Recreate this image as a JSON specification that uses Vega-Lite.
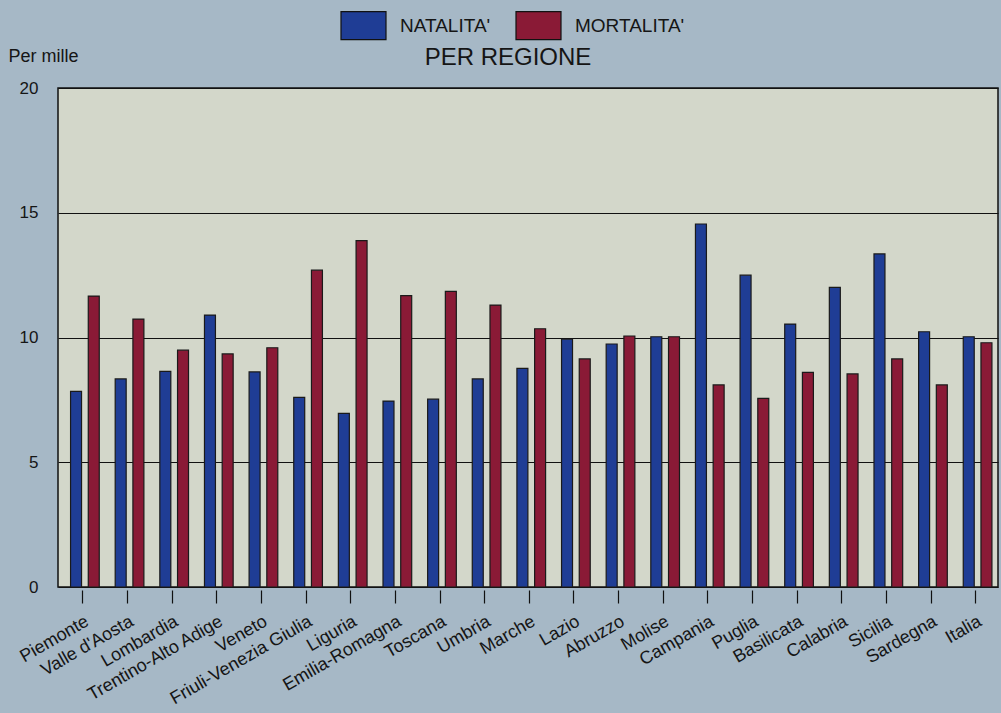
{
  "$schema": "https://vega.github.io/schema/vega-lite/v6.json",
  "autosize": "none",
  "width": 940,
  "height": 499,
  "padding": {"left": 58, "top": 88, "right": 3, "bottom": 126},
  "background": "#a6b8c6",
  "title": {
    "text": "PER REGIONE",
    "anchor": "middle",
    "dx": -20,
    "dy": 101,
    "offset": 14,
    "baseline": "alphabetic",
    "font": "Liberation Sans",
    "fontSize": 24,
    "fontWeight": "normal",
    "color": "#151515"
  },
  "config": {
    "view": {"fill": "#d3d7ca", "stroke": "#111111", "strokeWidth": 1.5},
    "font": "Liberation Sans"
  },
  "data": {
    "values": [
      {"regione": "Piemonte", "indicatore": "NATALITA'", "valore": 7.84},
      {"regione": "Piemonte", "indicatore": "MORTALITA'", "valore": 11.66},
      {"regione": "Valle d'Aosta", "indicatore": "NATALITA'", "valore": 8.34},
      {"regione": "Valle d'Aosta", "indicatore": "MORTALITA'", "valore": 10.74},
      {"regione": "Lombardia", "indicatore": "NATALITA'", "valore": 8.64},
      {"regione": "Lombardia", "indicatore": "MORTALITA'", "valore": 9.49},
      {"regione": "Trentino-Alto Adige", "indicatore": "NATALITA'", "valore": 10.9},
      {"regione": "Trentino-Alto Adige", "indicatore": "MORTALITA'", "valore": 9.34},
      {"regione": "Veneto", "indicatore": "NATALITA'", "valore": 8.62},
      {"regione": "Veneto", "indicatore": "MORTALITA'", "valore": 9.59},
      {"regione": "Friuli-Venezia Giulia", "indicatore": "NATALITA'", "valore": 7.6},
      {"regione": "Friuli-Venezia Giulia", "indicatore": "MORTALITA'", "valore": 12.7},
      {"regione": "Liguria", "indicatore": "NATALITA'", "valore": 6.96},
      {"regione": "Liguria", "indicatore": "MORTALITA'", "valore": 13.88},
      {"regione": "Emilia-Romagna", "indicatore": "NATALITA'", "valore": 7.45},
      {"regione": "Emilia-Romagna", "indicatore": "MORTALITA'", "valore": 11.68},
      {"regione": "Toscana", "indicatore": "NATALITA'", "valore": 7.53},
      {"regione": "Toscana", "indicatore": "MORTALITA'", "valore": 11.85},
      {"regione": "Umbria", "indicatore": "NATALITA'", "valore": 8.34},
      {"regione": "Umbria", "indicatore": "MORTALITA'", "valore": 11.3},
      {"regione": "Marche", "indicatore": "NATALITA'", "valore": 8.76},
      {"regione": "Marche", "indicatore": "MORTALITA'", "valore": 10.35},
      {"regione": "Lazio", "indicatore": "NATALITA'", "valore": 9.93},
      {"regione": "Lazio", "indicatore": "MORTALITA'", "valore": 9.14},
      {"regione": "Abruzzo", "indicatore": "NATALITA'", "valore": 9.74},
      {"regione": "Abruzzo", "indicatore": "MORTALITA'", "valore": 10.06},
      {"regione": "Molise", "indicatore": "NATALITA'", "valore": 10.03},
      {"regione": "Molise", "indicatore": "MORTALITA'", "valore": 10.03},
      {"regione": "Campania", "indicatore": "NATALITA'", "valore": 14.55},
      {"regione": "Campania", "indicatore": "MORTALITA'", "valore": 8.1},
      {"regione": "Puglia", "indicatore": "NATALITA'", "valore": 12.5},
      {"regione": "Puglia", "indicatore": "MORTALITA'", "valore": 7.56},
      {"regione": "Basilicata", "indicatore": "NATALITA'", "valore": 10.54},
      {"regione": "Basilicata", "indicatore": "MORTALITA'", "valore": 8.6},
      {"regione": "Calabria", "indicatore": "NATALITA'", "valore": 12.01},
      {"regione": "Calabria", "indicatore": "MORTALITA'", "valore": 8.54},
      {"regione": "Sicilia", "indicatore": "NATALITA'", "valore": 13.35},
      {"regione": "Sicilia", "indicatore": "MORTALITA'", "valore": 9.14},
      {"regione": "Sardegna", "indicatore": "NATALITA'", "valore": 10.23},
      {"regione": "Sardegna", "indicatore": "MORTALITA'", "valore": 8.1},
      {"regione": "Italia", "indicatore": "NATALITA'", "valore": 10.03},
      {"regione": "Italia", "indicatore": "MORTALITA'", "valore": 9.79}
    ]
  },
  "mark": {"type": "bar", "stroke": "#1a1a1a", "strokeWidth": 1.2},
  "encoding": {
    "x": {
      "field": "regione",
      "type": "nominal",
      "sort": null,
      "scale": {"paddingInner": 0, "paddingOuter": 0.03, "align": 1},
      "axis": {
        "title": null,
        "domain": false,
        "offset": 3,
        "tickSize": 13,
        "tickColor": "#111111",
        "tickWidth": 1.2,
        "labelAngle": -30,
        "labelFontSize": 18,
        "labelColor": "#151515",
        "labelPadding": 9,
        "labelFont": "Liberation Sans",
        "labelOverlap": false
      }
    },
    "xOffset": {
      "field": "indicatore",
      "type": "nominal",
      "sort": ["NATALITA'", "MORTALITA'"],
      "scale": {"paddingInner": 0.38, "paddingOuter": 0.45, "align": 0.62}
    },
    "y": {
      "field": "valore",
      "type": "quantitative",
      "scale": {"domain": [0, 20], "nice": false},
      "axis": {
        "values": [0, 5, 10, 15, 20],
        "domain": false,
        "ticks": false,
        "grid": true,
        "gridColor": "#111111",
        "gridWidth": 1.1,
        "gridOpacity": 1,
        "labelFontSize": 17,
        "labelColor": "#151515",
        "labelPadding": 20,
        "labelFont": "Liberation Sans",
        "title": "Per mille",
        "titleAngle": 0,
        "titleX": -50,
        "titleY": -23,
        "titleAlign": "left",
        "titleBaseline": "bottom",
        "titleFontSize": 18,
        "titleFontWeight": "normal",
        "titleColor": "#151515",
        "titleFont": "Liberation Sans"
      }
    },
    "color": {
      "field": "indicatore",
      "type": "nominal",
      "sort": ["NATALITA'", "MORTALITA'"],
      "scale": {"domain": ["NATALITA'", "MORTALITA'"], "range": ["#1f3d95", "#8a1a36"]},
      "legend": {
        "title": null,
        "orient": "none",
        "legendX": 282,
        "legendY": -86,
        "direction": "horizontal",
        "padding": 0,
        "symbolType": "M-1,-0.62H1V0.62H-1Z",
        "symbolSize": 2025,
        "symbolStrokeColor": "#111111",
        "symbolStrokeWidth": 1.2,
        "symbolOpacity": 1,
        "labelOffset": 13,
        "labelFontSize": 19,
        "labelColor": "#151515",
        "labelFont": "Liberation Sans",
        "columnPadding": 22
      }
    }
  }
}
